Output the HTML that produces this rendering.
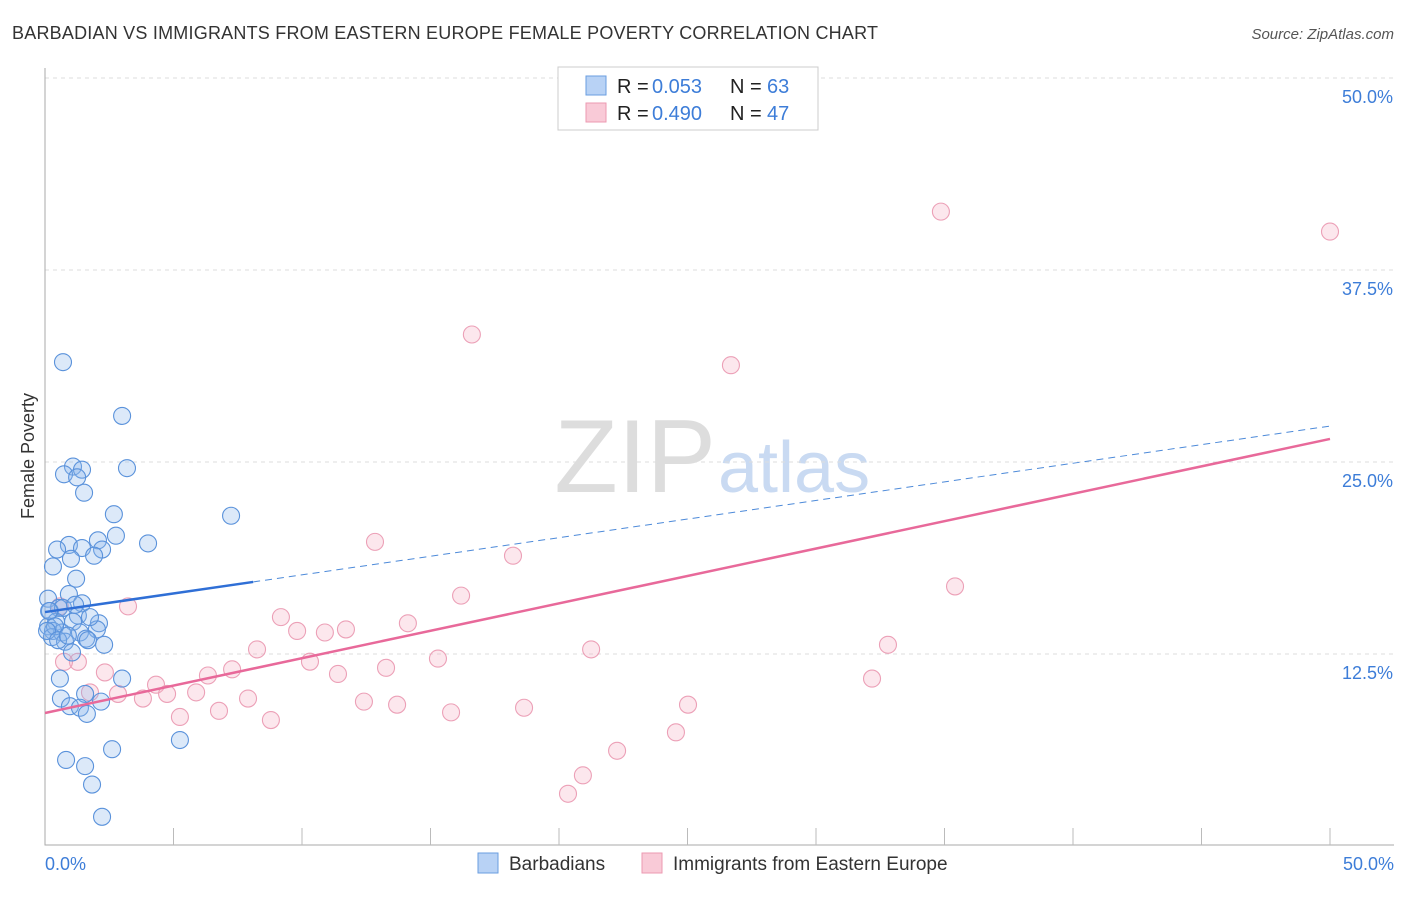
<!DOCTYPE html>
<html><head><meta charset="utf-8"><style>
body{margin:0;background:#fff;font-family:"Liberation Sans",sans-serif;}
svg text{font-family:"Liberation Sans",sans-serif;}
</style></head><body>
<svg id="chart" width="1406" height="892" viewBox="0 0 1406 892">
<text x="12" y="39" font-size="18" fill="#333" textLength="866">BARBADIAN VS IMMIGRANTS FROM EASTERN EUROPE FEMALE POVERTY CORRELATION CHART</text>
<text x="1394" y="39" font-size="15" fill="#555" font-style="italic" text-anchor="end">Source: ZipAtlas.com</text>
<text x="716" y="492" font-size="104" fill="#ddd" text-anchor="end" font-family="Liberation Serif">ZIP</text>
<text x="718" y="492" font-size="72" fill="#c9daf2">atlas</text>
<g id="grid"></g><g id="marks"></g>
<text transform="translate(34,456) rotate(-90)" font-size="18" fill="#333" text-anchor="middle">Female Poverty</text>
<g>
<rect x="558" y="67" width="260" height="63" fill="#fff" stroke="#ccc"/>
<rect x="586" y="76" width="20" height="19" fill="#b8d2f5" stroke="#6a9ee0"/>
<rect x="586" y="103" width="20" height="19" fill="#f9cad7" stroke="#ec9ab2"/>
<text x="617" y="93" font-size="20" fill="#222">R =</text>
<text x="652" y="93" font-size="20" fill="#3d7dd8">0.053</text>
<text x="730" y="93" font-size="20" fill="#222">N =</text>
<text x="767" y="93" font-size="20" fill="#3d7dd8">63</text>
<text x="617" y="120" font-size="20" fill="#222">R =</text>
<text x="652" y="120" font-size="20" fill="#3d7dd8">0.490</text>
<text x="730" y="120" font-size="20" fill="#222">N =</text>
<text x="767" y="120" font-size="20" fill="#3d7dd8">47</text>
</g>
<g>
<rect x="478" y="853" width="20" height="20" fill="#b8d2f5" stroke="#6a9ee0"/>
<text x="509" y="870" font-size="19" fill="#333">Barbadians</text>
<rect x="642" y="853" width="20" height="20" fill="#f9cad7" stroke="#ec9ab2"/>
<text x="673" y="870" font-size="19" fill="#333">Immigrants from Eastern Europe</text>
</g>
</svg>
<script>
const yTicks=[12.5,25,37.5,50];
const yTickLabels=["12.5%","25.0%","37.5%","50.0%"];
const xTickLabels=["0.0%","50.0%"];
const blueX=[0.70,3.00,1.09,1.44,0.74,1.25,3.19,1.52,2.68,7.24,2.76,2.06,4.01,0.93,0.47,1.44,2.22,1.91,1.01,0.31,1.21,0.93,0.12,1.44,0.54,0.19,0.70,1.28,2.10,0.43,0.12,1.09,0.31,0.66,1.36,2.02,0.27,0.78,1.60,1.67,2.30,1.05,0.58,3.00,1.56,0.62,0.97,2.18,1.36,1.63,5.25,2.61,0.82,1.56,1.83,2.22,0.16,0.39,0.08,0.51,0.89,1.75,1.17];
const blueY=[31.5,28.0,24.7,24.5,24.2,24.0,24.6,23.0,21.6,21.5,20.2,19.9,19.7,19.6,19.3,19.4,19.3,18.9,18.7,18.2,17.4,16.4,16.1,15.8,15.5,15.3,15.5,15.0,14.5,14.6,14.3,14.6,14.0,13.9,13.9,14.1,13.6,13.3,13.5,13.4,13.1,12.6,10.9,10.9,9.9,9.6,9.1,9.4,9.0,8.6,6.9,6.3,5.6,5.2,4.0,1.9,15.3,14.3,14.0,13.4,13.7,14.9,15.7];
const pinkX=[34.86,50.0,16.61,26.69,12.84,18.21,35.41,16.19,3.23,0.58,9.18,14.12,9.81,10.89,11.71,32.80,21.25,8.25,15.29,10.31,1.28,0.74,13.27,7.28,6.34,2.33,11.40,32.18,1.75,4.32,5.88,2.84,4.75,3.81,7.90,12.41,13.70,25.02,18.64,6.77,15.80,5.25,8.79,24.55,22.26,20.93,20.35];
const pinkY=[41.3,40.0,33.3,31.3,19.8,18.9,16.9,16.3,15.6,15.6,14.9,14.5,14.0,13.9,14.1,13.1,12.8,12.8,12.2,12.0,11.99,11.99,11.6,11.5,11.1,11.3,11.2,10.9,10.0,10.5,10.0,9.9,9.9,9.6,9.6,9.4,9.2,9.2,9.0,8.8,8.7,8.4,8.2,7.4,6.2,4.6,3.4];
const blueTrend=[15.23,27.34], pinkTrend=[8.66,26.5];
const X=v=>45+v*25.7, Y=v=>846-v*15.36;
const NS="http://www.w3.org/2000/svg";
const grid=document.getElementById('grid'), marks=document.getElementById('marks');
function mk(p,tag,a){const e=document.createElementNS(NS,tag);for(const k in a)e.setAttribute(k,a[k]);p.appendChild(e);return e;}
yTicks.forEach((t,i)=>{
 const l=mk(grid,'line',{x1:45,x2:1394,y1:Y(t),y2:Y(t),stroke:'#ddd','stroke-dasharray':'4,4'});
 
 
 const tx=mk(grid,'text',{x:1393,y:Y(t)+25,'font-size':18,fill:'#3d7dd8','text-anchor':'end'});tx.textContent=yTickLabels[i];
 
 
});
const ax=mk(grid,'path',{d:'M45,68V845H1394',fill:'none',stroke:'#aaa'});


for(let k=1;k<=10;k++){const t=mk(grid,'line',{x1:X(k*5),x2:X(k*5),y1:828,y2:845,stroke:'#bbb'});
 
 }
[[0,'start',45],[50,'end',1394]].forEach((d,i)=>{const t=mk(grid,'text',{x:d[2],y:870,'font-size':18,fill:'#3d7dd8','text-anchor':d[1]});t.textContent=xTickLabels[i];
 
 });
pinkX.forEach((v,i)=>{const c=mk(marks,'circle',{cx:X(v),cy:Y(pinkY[i]),r:8.5,fill:'rgba(246,175,196,0.3)',stroke:'#eca0b7','stroke-width':1.1});
 
 });
blueX.forEach((v,i)=>{const c=mk(marks,'circle',{cx:X(v),cy:Y(blueY[i]),r:8.5,fill:'rgba(140,182,236,0.3)',stroke:'#5a92db','stroke-width':1.1});
 
 });
const bx=8.1, bAt=v=>blueTrend[0]+(blueTrend[1]-blueTrend[0])*v/50;
let l=mk(marks,'line',{x1:X(0),y1:Y(bAt(0)),x2:X(bx),y2:Y(bAt(bx)),stroke:'#2f6fd6','stroke-width':2.5});


l=mk(marks,'line',{x1:X(bx),y1:Y(bAt(bx)),x2:X(50),y2:Y(bAt(50)),stroke:'#4d8ad9','stroke-width':1,'stroke-dasharray':'7,5'});


l=mk(marks,'line',{x1:X(0),y1:Y(pinkTrend[0]),x2:X(50),y2:Y(pinkTrend[1]),stroke:'#e8699a','stroke-width':2.5});


</script>
</body></html>
